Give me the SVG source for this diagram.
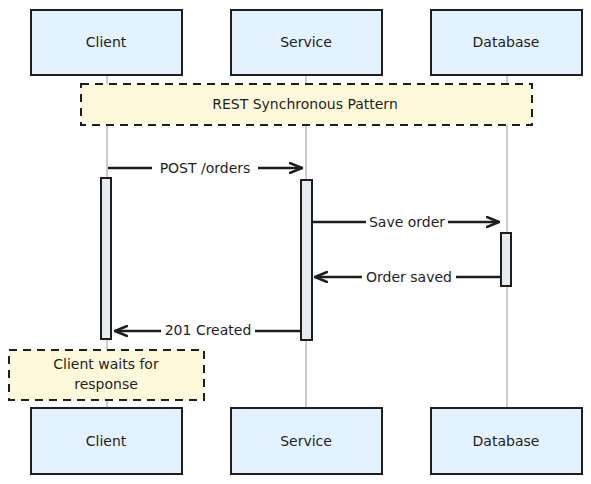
<svg xmlns="http://www.w3.org/2000/svg" width="591" height="484" viewBox="0 0 591 484">
<style>
.actor{fill:#e3f2fd;stroke:#1e1e1e;stroke-width:2}
.lbl{font-family:"DejaVu Sans","Liberation Sans",sans-serif;font-size:14px;fill:#1e1e1e;text-anchor:middle;dominant-baseline:central}
.life{stroke:#999;stroke-width:1}
.act{fill:#e9ecef;stroke:#1e1e1e;stroke-width:2}
.note{fill:#fff9db;stroke:#1e1e1e;stroke-width:2;stroke-dasharray:8 6}
.msg{stroke:#1e1e1e;stroke-width:2.5;fill:none}
.bg{fill:#fff}
</style>
<defs>
<marker id="arr" markerWidth="14" markerHeight="12" refX="13" refY="6" orient="auto" markerUnits="userSpaceOnUse">
<path d="M1,1 L13,6 L1,11" fill="none" stroke="#1e1e1e" stroke-width="2.5" stroke-linecap="round"/>
</marker>
</defs>
<g id="lifelines">
<line class="life" x1="107" y1="75" x2="107" y2="408"/>
<line class="life" x1="306" y1="75" x2="306" y2="408"/>
<line class="life" x1="507" y1="75" x2="507" y2="408"/>
</g>
<g id="client-top"><rect class="actor" x="31" y="10" width="151" height="65"/><text class="lbl" x="106" y="42">Client</text></g>
<g id="service-top"><rect class="actor" x="231" y="10" width="151" height="65"/><text class="lbl" x="306" y="42">Service</text></g>
<g id="database-top"><rect class="actor" x="431" y="10" width="151" height="65"/><text class="lbl" x="506" y="42">Database</text></g>
<g id="note-pattern"><rect class="note" x="81" y="84" width="451" height="41"/><text class="lbl" x="305" y="104">REST Synchronous Pattern</text></g>
<g id="client-activation"><rect class="act" x="101" y="178" width="10" height="161"/></g>
<g id="service-activation"><rect class="act" x="301" y="180" width="11" height="160"/></g>
<g id="database-activation"><rect class="act" x="501" y="233" width="10" height="53"/></g>
<g id="connectors">
<line class="msg" x1="108" y1="168" x2="302" y2="168" marker-end="url(#arr)"/>
<rect class="bg" x="152" y="159" width="106" height="18"/>
<text class="lbl" x="205" y="168">POST /orders</text>
<line class="msg" x1="312" y1="222" x2="499" y2="222" marker-end="url(#arr)"/>
<rect class="bg" x="366" y="213" width="82" height="18"/>
<text class="lbl" x="407" y="222">Save order</text>
<line class="msg" x1="501" y1="277" x2="315" y2="277" marker-end="url(#arr)"/>
<rect class="bg" x="362" y="268" width="94" height="18"/>
<text class="lbl" x="409" y="277">Order saved</text>
<line class="msg" x1="301" y1="331" x2="115" y2="331" marker-end="url(#arr)"/>
<rect class="bg" x="161" y="322" width="94" height="18"/>
<text class="lbl" x="208" y="330">201 Created</text>
</g>
<g id="note-wait"><rect class="note" x="9" y="350" width="195" height="50"/><text class="lbl" x="106" y="364">Client waits for</text><text class="lbl" x="106" y="384">response</text></g>
<g id="client-bottom"><rect class="actor" x="31" y="408" width="151" height="66"/><text class="lbl" x="106" y="441">Client</text></g>
<g id="service-bottom"><rect class="actor" x="231" y="408" width="151" height="66"/><text class="lbl" x="306" y="441">Service</text></g>
<g id="database-bottom"><rect class="actor" x="431" y="408" width="151" height="66"/><text class="lbl" x="506" y="441">Database</text></g>
</svg>
